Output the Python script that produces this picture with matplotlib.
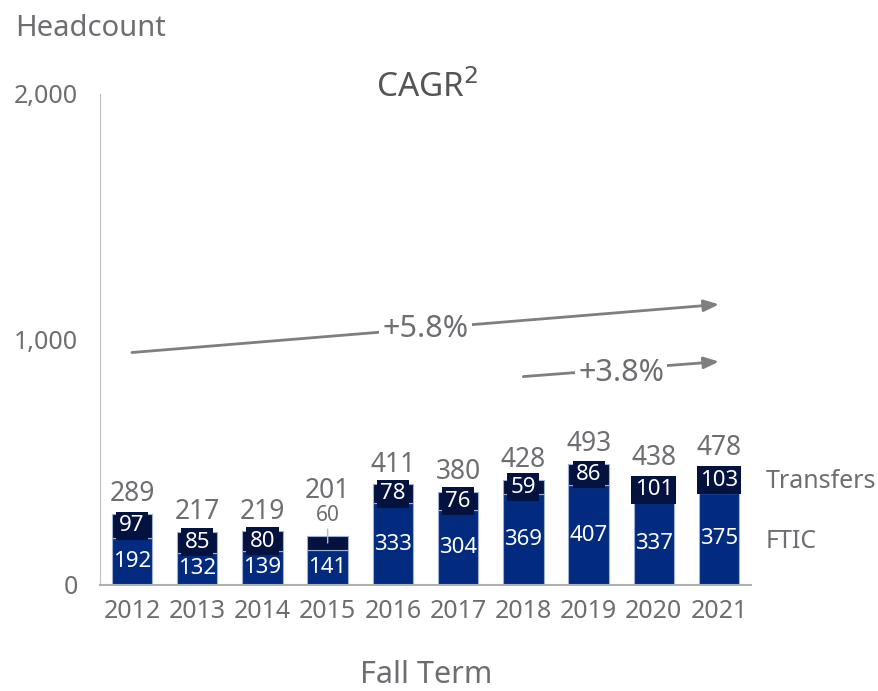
import matplotlib.pyplot as plt

years = ["2012", "2013", "2014", "2015", "2016", "2017", "2018", "2019", "2020", "2021"]
ftic = [192, 132, 139, 141, 333, 304, 369, 407, 337, 375]
transfers = [97, 85, 80, 60, 78, 76, 59, 86, 101, 103]
totals = [289, 217, 219, 201, 411, 380, 428, 493, 438, 478]
cagr_labels = ["+5.8%", "+3.8%"]

plt.rcParams['font.family'] = ['Noto Sans', 'DejaVu Sans']
GRAY = "#6d6e71"
BLUE = "#022b7f"
NAVY = "#03123f"

fig = plt.figure(figsize=(8.79, 6.91), dpi=100)
ax = fig.add_axes([100 / 879, 106 / 691, 651 / 879, 491 / 691])

x = list(range(len(years)))
ax.bar(x, ftic, width=0.62, color=BLUE, edgecolor="#9fb0d4", linewidth=0.8)
ax.bar(x, transfers, bottom=ftic, width=0.62, color=NAVY, edgecolor="#9fb0d4", linewidth=0.8)

for i in x:
    ax.text(i, ftic[i] / 2, str(ftic[i]), ha="center", va="center", color="white", fontsize=16)
    mid = ftic[i] + transfers[i] / 2
    if i != 3:
        ax.text(i, mid, str(transfers[i]), ha="center", va="center", color="white", fontsize=16,
                bbox=dict(boxstyle="square,pad=0.15", fc=NAVY, ec="none"))
        ax.annotate(str(totals[i]), (i, totals[i]), xytext=(0, 4), textcoords="offset points",
                    ha="center", va="bottom", color=GRAY, fontsize=19)
    else:
        # thin segment: label sits above the bar with a leader line
        ax.annotate(str(transfers[i]), (i, mid), xytext=(0, 12), textcoords="offset points",
                    ha="center", va="bottom", color=GRAY, fontsize=15,
                    arrowprops=dict(arrowstyle="-", color="#bbbbbb", lw=1, shrinkA=0, shrinkB=0))
        ax.annotate(str(totals[i]), (i, totals[i]), xytext=(0, 22), textcoords="offset points",
                    ha="center", va="bottom", color=GRAY, fontsize=19)

# CAGR arrows
arrow_kw = dict(arrowstyle="-|>,head_length=0.9,head_width=0.35", color="#7f7f7f", lw=2,
                shrinkA=0, shrinkB=0)
ax.annotate("", xy=(9, 1143), xytext=(0, 947), arrowprops=arrow_kw)
ax.annotate("", xy=(9, 910), xytext=(6, 849), arrowprops=arrow_kw)
ax.text(4.5, 1041, cagr_labels[0], ha="center", va="center", color=GRAY, fontsize=22,
        bbox=dict(boxstyle="square,pad=0.1", fc="white", ec="none"))
ax.text(7.5, 865, cagr_labels[1], ha="center", va="center", color=GRAY, fontsize=22,
        bbox=dict(boxstyle="square,pad=0.1", fc="white", ec="none"))

ax.set_xlim(-0.49, 9.49)
ax.set_ylim(0, 2000)
ax.set_yticks([0, 1000, 2000])
ax.set_yticklabels(["0", "1,000", "2,000"])
ax.set_xticks(x)
ax.set_xticklabels(years)
ax.tick_params(axis="both", length=0, labelsize=18, colors=GRAY)
ax.tick_params(axis="y", pad=16)
ax.tick_params(axis="x", pad=10)
for s in ["top", "right"]:
    ax.spines[s].set_visible(False)
ax.spines["left"].set_color("#c0c0c0")
ax.spines["bottom"].set_color("#b0b0b0")
ax.spines["bottom"].set_linewidth(1.5)

fig.text(15 / 879, 1 - 28 / 691, "Headcount", ha="left", va="center", color=GRAY, fontsize=21)
fig.text(427 / 879, 1 - 88 / 691, "CAGR$^2$", ha="center", va="center", color="#555555", fontsize=24)
fig.text(426 / 879, 1 - 675 / 691, "Fall Term", ha="center", va="center", color=GRAY, fontsize=22)
fig.text(766 / 879, 1 - 481 / 691, "Transfers", ha="left", va="center", color=GRAY, fontsize=18)
fig.text(766 / 879, 1 - 541 / 691, "FTIC", ha="left", va="center", color=GRAY, fontsize=18)

fig.savefig("out.png", dpi=100)
